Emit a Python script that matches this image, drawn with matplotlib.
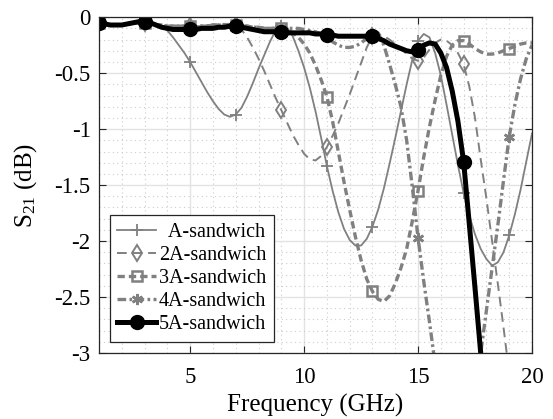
import numpy as np
import matplotlib
matplotlib.use("Agg")
import matplotlib.pyplot as plt
from matplotlib.ticker import MultipleLocator, FuncFormatter

plt.rcParams["font.family"] = ["Liberation Serif", "DejaVu Serif"]
plt.rcParams["mathtext.fontset"] = "custom"
plt.rcParams["mathtext.rm"] = "Liberation Serif"
plt.rcParams["mathtext.it"] = "Liberation Serif:italic"
plt.rcParams["axes.unicode_minus"] = False

# frequency samples, 0.25 GHz steps from 1 to 20 GHz
freq = np.arange(1.0, 20.001, 0.25)

# S21 (dB), one row per GHz
s21_a = [
    -0.05, -0.06, -0.07, -0.07,
    -0.07, -0.07, -0.06, -0.05,
    -0.05, -0.05, -0.06, -0.08,
    -0.12, -0.18, -0.25, -0.32,
    -0.40, -0.49, -0.58, -0.67,
    -0.75, -0.82, -0.87, -0.89,
    -0.87, -0.81, -0.71, -0.59,
    -0.46, -0.34, -0.22, -0.12,
    -0.08, -0.09, -0.17, -0.30,
    -0.45, -0.63, -0.84, -1.08,
    -1.33, -1.55, -1.74, -1.89,
    -1.99, -2.04, -2.04, -1.98,
    -1.87, -1.72, -1.53, -1.31,
    -1.08, -0.84, -0.60, -0.38,
    -0.21, -0.15, -0.18, -0.32,
    -0.52, -0.78, -1.05, -1.32,
    -1.57, -1.77, -1.94, -2.07,
    -2.16, -2.22, -2.19, -2.10,
    -1.95, -1.76, -1.54, -1.29,
    -1.04,
]

s21_2a = [
    -0.05, -0.06, -0.07, -0.07,
    -0.07, -0.06, -0.05, -0.05,
    -0.05, -0.06, -0.07, -0.08,
    -0.08, -0.08, -0.08, -0.08,
    -0.08, -0.08, -0.08, -0.07,
    -0.07, -0.06, -0.06, -0.06,
    -0.07, -0.11, -0.18, -0.27,
    -0.37, -0.48, -0.60, -0.72,
    -0.83, -0.94, -1.05, -1.14,
    -1.22, -1.27, -1.28, -1.24,
    -1.16, -1.06, -0.95, -0.82,
    -0.69, -0.55, -0.41, -0.27,
    -0.17, -0.15, -0.17, -0.20,
    -0.24, -0.28, -0.33, -0.37,
    -0.39, -0.36, -0.29, -0.23,
    -0.20, -0.21, -0.25, -0.32,
    -0.42, -0.62, -0.90, -1.27,
    -1.62, -2.00, -2.38, -2.77,
    -3.18, -3.45, -3.65, -3.80,
    -3.90,
]

s21_3a = [
    -0.05, -0.06, -0.07, -0.07,
    -0.07, -0.06, -0.05, -0.05,
    -0.05, -0.06, -0.07, -0.07,
    -0.08, -0.08, -0.08, -0.08,
    -0.08, -0.08, -0.08, -0.08,
    -0.07, -0.07, -0.07, -0.07,
    -0.07, -0.08, -0.08, -0.09,
    -0.09, -0.10, -0.10, -0.10,
    -0.10, -0.11, -0.14, -0.18,
    -0.24, -0.32, -0.43, -0.56,
    -0.71, -0.93, -1.20, -1.47,
    -1.72, -1.96, -2.17, -2.34,
    -2.45, -2.52, -2.54, -2.49,
    -2.38, -2.24, -2.07, -1.82,
    -1.55, -1.25, -0.98, -0.74,
    -0.52, -0.35, -0.25, -0.21,
    -0.21, -0.24, -0.28, -0.31,
    -0.33, -0.33, -0.32, -0.30,
    -0.28, -0.26, -0.24, -0.23,
    -0.23,
]

s21_4a = [
    -0.05, -0.06, -0.07, -0.07,
    -0.07, -0.06, -0.05, -0.05,
    -0.05, -0.06, -0.07, -0.07,
    -0.08, -0.08, -0.08, -0.08,
    -0.08, -0.08, -0.08, -0.08,
    -0.07, -0.07, -0.07, -0.07,
    -0.07, -0.08, -0.08, -0.09,
    -0.09, -0.10, -0.10, -0.10,
    -0.10, -0.10, -0.10, -0.10,
    -0.11, -0.12, -0.13, -0.15,
    -0.18, -0.22, -0.25, -0.27,
    -0.27, -0.26, -0.23, -0.19,
    -0.16, -0.14, -0.25, -0.42,
    -0.60, -0.80, -1.10, -1.52,
    -1.97, -2.36, -2.72, -3.10,
    -3.40, -3.60, -3.70, -3.70,
    -3.60, -3.45, -3.25, -3.00,
    -2.62, -2.24, -1.86, -1.46,
    -1.07, -0.78, -0.55, -0.37,
    -0.25,
]

s21_5a = [
    -0.05, -0.06, -0.07, -0.07,
    -0.07, -0.06, -0.05, -0.04,
    -0.04, -0.05, -0.07, -0.09,
    -0.10, -0.11, -0.11, -0.11,
    -0.11, -0.11, -0.10, -0.10,
    -0.10, -0.09, -0.09, -0.08,
    -0.08, -0.09, -0.10, -0.11,
    -0.12, -0.13, -0.13, -0.13,
    -0.13, -0.14, -0.14, -0.14,
    -0.14, -0.14, -0.15, -0.15,
    -0.16, -0.16, -0.17, -0.17,
    -0.17, -0.17, -0.17, -0.17,
    -0.17, -0.19, -0.21, -0.24,
    -0.26, -0.28, -0.30, -0.31,
    -0.29, -0.25, -0.23, -0.24,
    -0.32, -0.45, -0.66, -0.93,
    -1.29, -1.85, -2.42, -3.00,
    -3.55, np.nan, np.nan, np.nan,
    np.nan, np.nan, np.nan, np.nan,
    np.nan,
]

labels = ["  A-sandwich", "2A-sandwich", "3A-sandwich", "4A-sandwich", "5A-sandwich"]

gray = "#808080"
styles = [
    dict(color=gray, ls="-", lw=1.3, marker="+", ms=9, mew=1.3),
    dict(color=gray, ls=(0, (5, 3)), lw=1.4, marker="d", ms=8, mew=1.4, mfc="none"),
    dict(color=gray, ls=(0, (2.2, 1.2)), lw=2.4, marker="s", ms=7.5, mew=1.8, mfc="none"),
    dict(color=gray, ls=(0, (2.6, 1.0, 0.8, 1.0)), lw=2.4, marker=(6, 2, 0), ms=8, mew=1.8),
    dict(color="black", ls="-", lw=3.6, marker="o", ms=10, mfc="black"),
]

fig = plt.figure(figsize=(5.53, 4.19), dpi=100)
ax = fig.add_axes([0.179, 0.1575, 0.783, 0.8015])

for y, lab, st in zip([s21_a, s21_2a, s21_3a, s21_4a, s21_5a], labels, styles):
    ax.plot(freq, y, label=lab, markevery=8, **st)

ax.set_xlim(1, 20)
ax.set_ylim(-3, 0)
ax.xaxis.set_major_locator(MultipleLocator(5))
ax.xaxis.set_minor_locator(MultipleLocator(1))
ax.yaxis.set_major_locator(MultipleLocator(0.5))
ax.yaxis.set_minor_locator(MultipleLocator(0.1))
ax.yaxis.set_major_formatter(FuncFormatter(lambda v, p: "%g" % v))

ax.grid(which="major", color="#e3e3e3", lw=1.0, ls="-")
ax.grid(which="minor", color="#cccccc", lw=0.8, ls=(0, (1, 3)))
ax.set_axisbelow(True)

ax.tick_params(which="both", direction="in", top=True, right=True,
               labelsize=16.5, colors="#262626", labelcolor="black")
ax.tick_params(which="major", length=5)
ax.tick_params(which="minor", length=0)
ax.tick_params(axis="x", pad=10)
ax.tick_params(axis="y", pad=6)
for sp in ax.spines.values():
    sp.set_color("#262626")
    sp.set_linewidth(0.9)

ax.set_xlabel("Frequency (GHz)", fontsize=18, labelpad=4)
ax.set_ylabel("S$_{21}$ (dB)", fontsize=18, labelpad=11)

leg = ax.legend(loc="lower left", bbox_to_anchor=(0.025, 0.033), borderaxespad=0,
                fontsize=14.5, handlelength=1.9, handletextpad=0.15,
                labelspacing=0.2, borderpad=0.38, fancybox=False,
                framealpha=1, edgecolor="#262626")
leg.get_frame().set_linewidth(0.9)

fig.savefig("out.png", dpi=100)
